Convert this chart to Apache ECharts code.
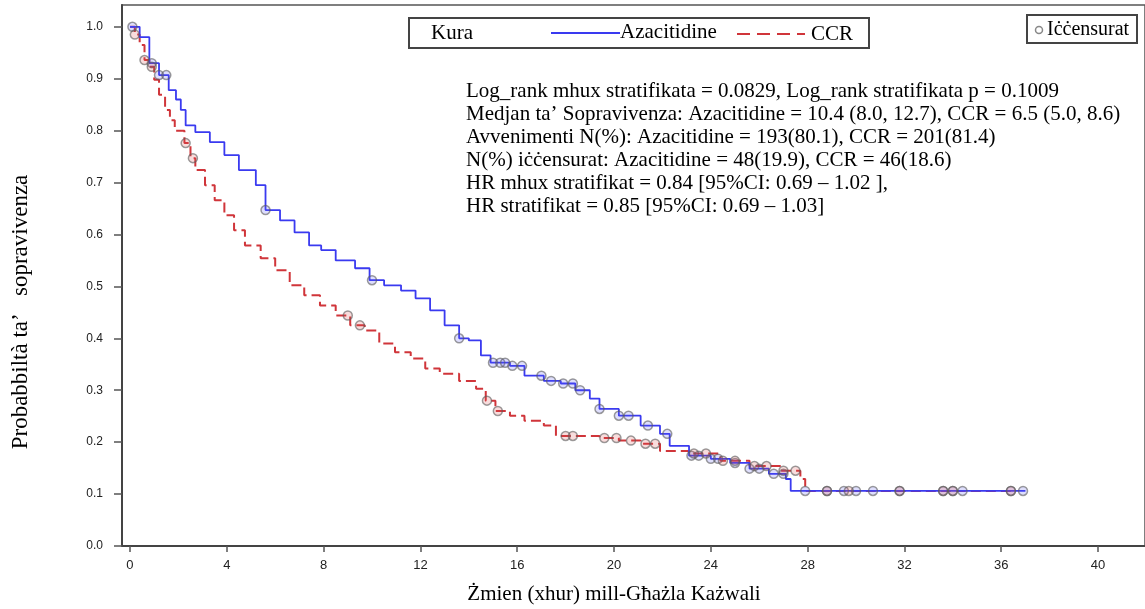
<!DOCTYPE html>
<html>
<head>
<meta charset="utf-8">
<script src="https://cdn.jsdelivr.net/npm/echarts@6/dist/echarts.min.js"></script>
<style>html,body{margin:0;padding:0;background:#fff;}#c{width:1145px;height:609px;}</style>
</head>
<body>
<div id="c"></div>
<script>
// ---- data ----
const xTicks = [0, 4, 8, 12, 16, 20, 24, 28, 32, 36, 40];
const yTicks = [0, 0.1, 0.2, 0.3, 0.4, 0.5, 0.6, 0.7, 0.8, 0.9, 1.0];

const azaTime = [0, 0.4, 0.8, 1.2, 1.6, 1.9, 2.1, 2.3, 2.7, 3.3, 3.9, 4.5, 5.2, 5.6, 6.2, 6.8, 7.4, 7.9, 8.5, 9.3, 9.9, 10.5, 11.2, 11.8, 12.4, 13.0, 13.6, 14.0, 14.5, 14.9, 15.7, 16.3, 17.1, 17.8, 18.4, 19.0, 19.4, 20.2, 21.1, 21.9, 22.3, 23.1, 24.0, 24.8, 25.6, 26.4, 27.1, 27.3, 37.0];
const azaSurv = [1.0, 0.98, 0.93, 0.907, 0.878, 0.86, 0.84, 0.81, 0.797, 0.778, 0.753, 0.724, 0.695, 0.647, 0.627, 0.604, 0.579, 0.57, 0.55, 0.535, 0.512, 0.502, 0.492, 0.477, 0.454, 0.425, 0.40, 0.396, 0.367, 0.353, 0.347, 0.328, 0.318, 0.313, 0.30, 0.284, 0.264, 0.251, 0.232, 0.216, 0.193, 0.174, 0.168, 0.16, 0.149, 0.139, 0.129, 0.106, 0.106];

const ccrTime = [0, 0.2, 0.4, 0.6, 0.8, 1.0, 1.2, 1.45, 1.65, 1.85, 2.25, 2.5, 2.7, 3.1, 3.5, 3.9, 4.3, 4.75, 5.4, 6.0, 6.6, 7.2, 7.85, 8.5, 9.1, 9.7, 10.3, 10.95, 11.6, 12.2, 12.8, 13.6, 14.3, 14.7, 15.1, 15.7, 16.3, 17.1, 17.6, 19.4, 20.2, 21.1, 21.9, 23.1, 24.4, 25.6, 26.9, 27.7, 27.9, 36.5];
const ccrSurv = [1.0, 0.985, 0.965, 0.936, 0.923, 0.898, 0.869, 0.84, 0.82, 0.80, 0.776, 0.747, 0.724, 0.695, 0.666, 0.637, 0.608, 0.579, 0.554, 0.531, 0.502, 0.483, 0.463, 0.444, 0.425, 0.415, 0.39, 0.373, 0.361, 0.342, 0.332, 0.318, 0.303, 0.28, 0.26, 0.251, 0.241, 0.232, 0.212, 0.208, 0.203, 0.197, 0.183, 0.178, 0.164, 0.154, 0.145, 0.129, 0.106, 0.106];

const azaCens = [0.1, 0.9, 1.2, 1.5, 5.6, 10.0, 13.6, 15.0, 15.3, 15.5, 15.8, 16.2, 17.0, 17.4, 17.9, 18.3, 18.6, 19.4, 20.2, 20.6, 21.4, 22.2, 23.2, 23.5, 24.0, 24.3, 25.0, 25.6, 26.0, 26.6, 27.0, 27.9, 28.8, 29.5, 30.0, 30.7, 31.8, 33.6, 34.0, 34.4, 36.4, 36.9];
const ccrCens = [0.2, 0.6, 0.9, 2.3, 2.6, 9.0, 9.5, 14.75, 15.2, 18.0, 18.3, 19.6, 20.1, 20.7, 21.3, 21.7, 23.3, 23.8, 24.5, 25.0, 25.8, 26.3, 27.0, 27.5, 28.8, 29.7, 31.8, 33.6, 34.0, 36.4];

const seriesNames = ['Azacitidine', 'CCR'];
const legendTitle = 'Kura';
const censLabel = 'Iċċensurat';
const xName = 'Żmien (xhur) mill-Għażla Każwali';
const yName = 'Probabbiltà ta’   sopravivenza';
const notes = [
  'Log_rank mhux stratifikata = 0.0829, Log_rank stratifikata p = 0.1009',
  'Medjan ta’ Sopravivenza: Azacitidine = 10.4 (8.0, 12.7), CCR = 6.5 (5.0, 8.6)',
  'Avvenimenti N(%): Azacitidine = 193(80.1), CCR = 201(81.4)',
  'N(%) iċċensurat: Azacitidine = 48(19.9), CCR = 46(18.6)',
  'HR mhux stratifikat = 0.84 [95%CI: 0.69 – 1.02 ],',
  'HR stratifikat = 0.85 [95%CI: 0.69 – 1.03]'
];

// ---- build ----
function pairs(t, s) { return t.map((v, i) => [v, s[i]]); }
function stepAt(t, s, x) { let v = s[0]; for (let i = 0; i < t.length; i++) { if (t[i] <= x) v = s[i]; } return v; }
function censPts(c, t, s) { return c.map(x => [x, stepAt(t, s, x)]); }

const BLUE = '#3a3af0', RED = '#d0353a';
const serif = '"Liberation Serif", "Times New Roman", serif';
const sans = '"Liberation Sans", Arial, sans-serif';

const chart = echarts.init(document.getElementById('c'), null, { renderer: 'canvas' });

const censStyle = (col) => ({
  color: col === BLUE ? 'rgba(90,90,240,0.25)' : 'rgba(220,80,80,0.25)',
  borderColor: 'rgba(90,90,90,0.75)', borderWidth: 1.5
});

const graphics = [];
// legend box
graphics.push({ type: 'rect', shape: { x: 409, y: 18, width: 460, height: 30 }, style: { fill: '#fff', stroke: '#444', lineWidth: 2 } });
graphics.push({ type: 'text', x: 431, y: 33, style: { text: legendTitle, font: '21px ' + serif, fill: '#000', verticalAlign: 'middle' } });
graphics.push({ type: 'line', shape: { x1: 551, y1: 33, x2: 620, y2: 33 }, style: { stroke: BLUE, lineWidth: 1.8 } });
graphics.push({ type: 'text', x: 620, y: 32, style: { text: seriesNames[0], font: '21px ' + serif, fill: '#000', verticalAlign: 'middle' } });
graphics.push({ type: 'line', shape: { x1: 737, y1: 34, x2: 805, y2: 34 }, style: { stroke: RED, lineWidth: 2, lineDash: [13, 7] } });
graphics.push({ type: 'text', x: 811, y: 34, style: { text: seriesNames[1], font: '21px ' + serif, fill: '#000', verticalAlign: 'middle' } });
// censored box
graphics.push({ type: 'rect', shape: { x: 1027, y: 15, width: 110, height: 28 }, style: { fill: '#fff', stroke: '#444', lineWidth: 2 } });
graphics.push({ type: 'circle', shape: { cx: 1039, cy: 30, r: 3.5 }, style: { fill: '#fff', stroke: '#888', lineWidth: 1.5 } });
graphics.push({ type: 'text', x: 1047, y: 30, style: { text: censLabel, font: '20px ' + serif, fill: '#000', verticalAlign: 'middle' } });
// notes
notes.forEach((n, i) => {
  graphics.push({ type: 'text', x: 466, y: 91 + i * 23, style: { text: n, font: '21px ' + serif, fill: '#000', verticalAlign: 'middle' } });
});
// axis names
graphics.push({ type: 'text', x: 21, y: 312, rotation: Math.PI / 2, style: { text: yName, font: '23px ' + serif, fill: '#000', align: 'center', verticalAlign: 'middle' } });
graphics.push({ type: 'text', x: 614, y: 594, style: { text: xName, font: '21px ' + serif, fill: '#000', align: 'center', verticalAlign: 'middle' } });

chart.setOption({
  animation: false,
  backgroundColor: '#fff',
  grid: { left: 122, right: 0, top: 5, bottom: 63, show: true, borderColor: '#555', borderWidth: 1.5 },
  xAxis: {
    type: 'value', min: -0.33, max: 41.94,
    axisLine: { show: true, onZero: false, lineStyle: { color: '#444', width: 2 } },
    axisTick: { show: true, customValues: xTicks, length: 6, lineStyle: { color: '#555', width: 1.5 } },
    axisLabel: { customValues: xTicks, margin: 13, fontFamily: sans, fontSize: 13, color: '#222' },
    splitLine: { show: false }
  },
  yAxis: {
    type: 'value', min: 0, max: 1.042,
    axisLine: { show: true, onZero: false, lineStyle: { color: '#444', width: 2 } },
    axisTick: { show: true, customValues: yTicks, length: 8, lineStyle: { color: '#555', width: 1.5 } },
    axisLabel: { customValues: yTicks, margin: 19, fontFamily: sans, fontSize: 12, color: '#222', formatter: v => v.toFixed(1) },
    splitLine: { show: false }
  },
  graphic: graphics,
  series: [
    { name: seriesNames[0], type: 'line', step: 'end', data: pairs(azaTime, azaSurv), showSymbol: false, lineStyle: { color: BLUE, width: 1.8 }, z: 3 },
    { name: seriesNames[1], type: 'line', step: 'end', data: pairs(ccrTime, ccrSurv), showSymbol: false, lineStyle: { color: RED, width: 2, type: [10, 5] }, z: 2 },
    { name: seriesNames[0] + ' ' + censLabel, type: 'scatter', data: censPts(azaCens, azaTime, azaSurv), symbol: 'circle', symbolSize: 9, itemStyle: censStyle(BLUE), z: 4 },
    { name: seriesNames[1] + ' ' + censLabel, type: 'scatter', data: censPts(ccrCens, ccrTime, ccrSurv), symbol: 'circle', symbolSize: 9, itemStyle: censStyle(RED), z: 4 }
  ]
});
</script>
</body>
</html>
